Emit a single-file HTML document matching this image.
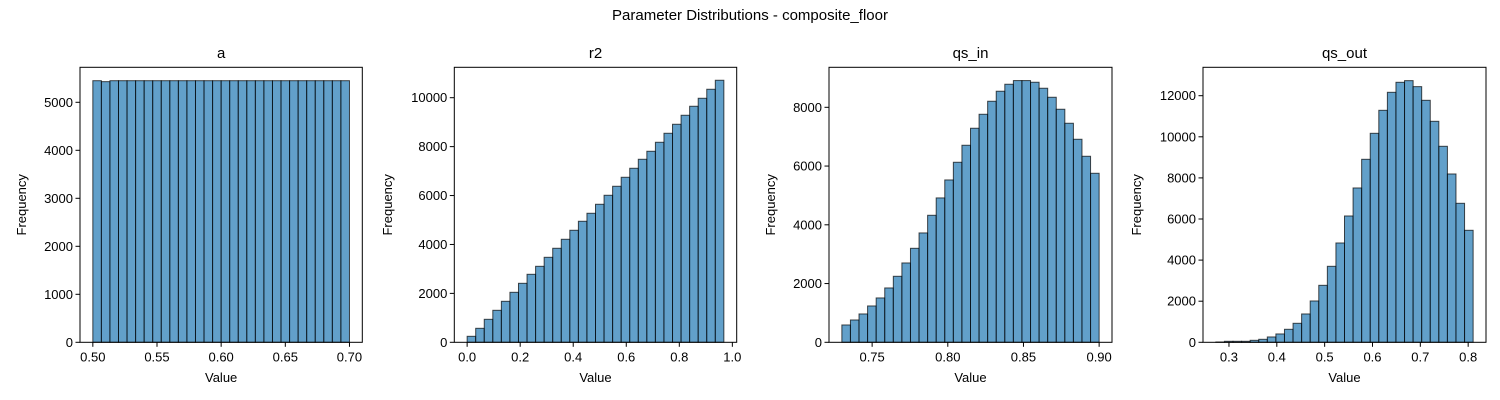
<!DOCTYPE html>
<html><head><meta charset="utf-8"><style>
html,body{margin:0;padding:0;background:#fff;}
svg{display:block;font-family:"Liberation Sans","DejaVu Sans",sans-serif;}
</style></head><body>
<svg id="fig" width="1500" height="400" viewBox="0 0 1500 400">
<text x="750" y="20" text-anchor="middle" font-size="15" fill="#000">Parameter Distributions - composite_floor</text>
</svg>
<script>
const titles = ["a","r2","qs_in","qs_out"];
const aCounts = [5450,5430,5450,5450,5450,5450,5450,5450,5450,5450,5450,5450,5450,5450,5450,5450,5450,5450,5450,5450,5450,5450,5450,5450,5450,5450,5450,5450,5450,5450];
const r2Counts = [245,572,940,1308,1676,2044,2412,2780,3107,3475,3844,4212,4580,4948,5275,5643,6011,6379,6747,7115,7483,7810,8178,8546,8914,9282,9650,9977,10345,10713];
const qsInCounts = [590,760,965,1237,1510,1850,2247,2701,3200,3723,4324,4915,5527,6129,6708,7287,7763,8206,8547,8785,8910,8910,8853,8649,8342,7934,7457,6912,6333,5754];
const qsOutCounts = [16,49,49,49,97,146,260,406,633,925,1379,2011,2773,3698,4833,6147,7510,8905,10170,11289,12165,12652,12733,12441,11776,10754,9538,8191,6764,5450];
const binRanges = [[0.5,0.7],[0.0,0.968],[0.73,0.90],[0.2726,0.8104]];
const xTicks = [[0.50,0.55,0.60,0.65,0.70],[0.0,0.2,0.4,0.6,0.8,1.0],[0.75,0.80,0.85,0.90],[0.3,0.4,0.5,0.6,0.7,0.8]];
const xTickLabels = [["0.50","0.55","0.60","0.65","0.70"],["0.0","0.2","0.4","0.6","0.8","1.0"],["0.75","0.80","0.85","0.90"],["0.3","0.4","0.5","0.6","0.7","0.8"]];
const yTicks = [[0,1000,2000,3000,4000,5000],[0,2000,4000,6000,8000,10000],[0,2000,4000,6000,8000],[0,2000,4000,6000,8000,10000,12000]];
const yMax = [5729,11243,9362,13382];
const allCounts = [aCounts,r2Counts,qsInCounts,qsOutCounts];
const panels = [{l:80,r:362.3},{l:454.3,r:736.7},{l:829,r:1112},{l:1203,r:1486}];
const plotTop=67.3, plotBot=342.3;
const NS="http://www.w3.org/2000/svg";
const svg=document.getElementById('fig');
function mk(tag,attrs,parent){const e=document.createElementNS(NS,tag);for(const k in attrs)e.setAttribute(k,attrs[k]);(parent||svg).appendChild(e);return e;}
for(let p=0;p<4;p++){
  const counts=allCounts[p];
  const [d0,d1]=binRanges[p];
  const m=(d1-d0)*0.05;
  const x0=d0-m,x1=d1+m;
  const P=panels[p];
  const xs=v=>P.l+(v-x0)/(x1-x0)*(P.r-P.l);
  const ys=v=>plotBot-v/yMax[p]*(plotBot-plotTop);
  const g=mk('g',{});
  
  
  const n=counts.length, w=(d1-d0)/n;
  for(let i=0;i<n;i++){
    const a=xs(d0+i*w), b=xs(d0+(i+1)*w), y=ys(counts[i]);
    const r=mk('rect',{x:a,y:y,width:b-a,height:plotBot-y,fill:'rgba(31,119,180,0.7)',stroke:'rgba(0,0,0,0.7)','stroke-width':1},g);
    
    
  }
  const fr=mk('rect',{x:P.l,y:plotTop,width:P.r-P.l,height:plotBot-plotTop,fill:'none',stroke:'#000','stroke-width':1},g);
  
  
  xTicks[p].forEach((t,i)=>{
    const x=xs(t);
    mk('line',{x1:x,x2:x,y1:plotBot,y2:plotBot+4.5,stroke:'#000','stroke-width':1},g);
    const tx=mk('text',{x:x,y:plotBot+19,'text-anchor':'middle','font-size':13},g);
    tx.textContent=xTickLabels[p][i];
    
    
  });
  yTicks[p].forEach(t=>{
    const y=ys(t);
    mk('line',{x1:P.l-4.5,x2:P.l,y1:y,y2:y,stroke:'#000','stroke-width':1},g);
    const tx=mk('text',{x:P.l-7,y:y+4.5,'text-anchor':'end','font-size':13},g);
    tx.textContent=String(t);
    
    
  });
  const tt=mk('text',{x:(P.l+P.r)/2,y:58,'text-anchor':'middle','font-size':15},g);
  tt.textContent=titles[p];
  
  
  const xl=mk('text',{x:(P.l+P.r)/2,y:382,'text-anchor':'middle','font-size':13},g);
  xl.textContent='Value';
  
  
  const lx=[26,392,775,1141][p];
  const yl=mk('text',{x:lx,y:(plotTop+plotBot)/2,'text-anchor':'middle','font-size':13,transform:'rotate(-90 '+lx+' '+((plotTop+plotBot)/2)+')'},g);
  yl.textContent='Frequency';
  
  
}
</script>
</body></html>
